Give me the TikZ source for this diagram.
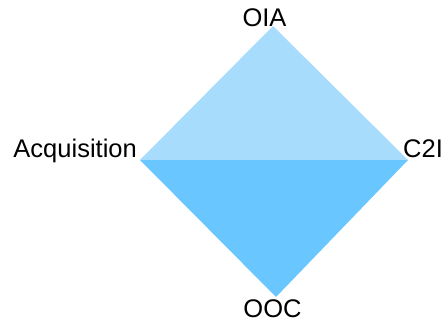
\documentclass[tikz,border=0pt]{standalone}
\usepackage{fontspec}
\setmainfont{Liberation Sans}
\definecolor{upperblue}{HTML}{A8DCFD}
\definecolor{lowerblue}{HTML}{69C6FF}
\begin{document}
\begin{tikzpicture}[x=1pt,y=1pt,
  lab/.style={inner sep=0pt,font=\fontsize{25.5}{30}\selectfont}]
\useasboundingbox (0,0) rectangle (447,324);
\coordinate (T) at (273,298);
\coordinate (L) at (140,164);
\coordinate (R) at (408,164);
\coordinate (B) at (276,27);
\fill[lowerblue] (L) -- (R) -- (B) -- cycle;
\fill[upperblue] (L) -- (T) -- (R) -- cycle;
\node[lab,anchor=base] (oia) at (264.5,297) {OIA};
\node[lab,anchor=base east] (acq) at (137,166) {Acquisition};
\node[lab,anchor=base west] (c2i) at (403,166) {C2I};
\node[lab,anchor=base] (ooc) at (272.5,7) {OOC};
\end{tikzpicture}
\end{document}
